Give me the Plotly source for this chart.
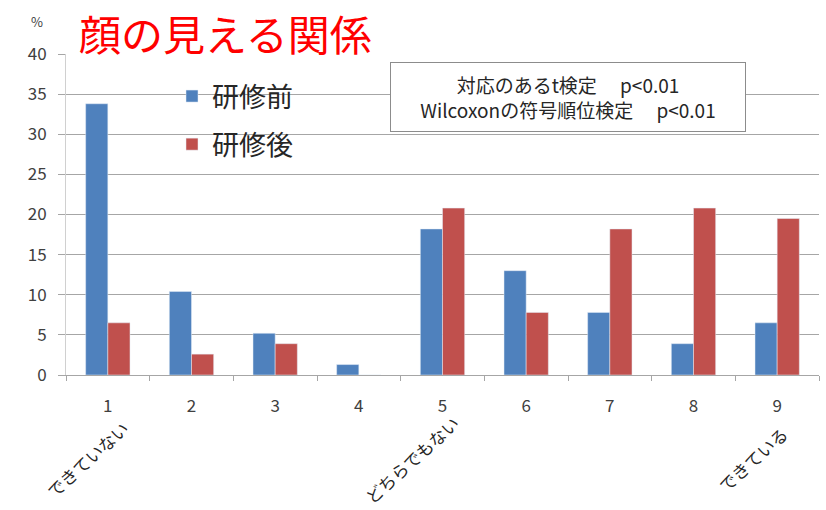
import plotly.graph_objects as go

categories = ["1", "2", "3", "4", "5", "6", "7", "8", "9"]
before = [33.8, 10.4, 5.2, 1.3, 18.2, 13.0, 7.8, 3.9, 6.5]
after = [6.5, 2.6, 3.9, 0.0, 20.8, 7.8, 18.2, 20.8, 19.5]
series_names = ["研修前", "研修後"]
scale_labels = [("1", "できていない", -21), ("5", "どちらでもない", -31), ("9", "できている", -25)]
title_text = "顔の見える関係"
stats_lines = ["対応のあるt検定\u3000\u00a0p<0.01", "Wilcoxonの符号順位検定\u3000\u00a0p<0.01"]

FONT = "Noto Sans CJK JP"
W, H = 826, 510
ml, mr, mt, mb = 66, 7, 54, 135
pw, ph = W - ml - mr, H - mt - mb

def px(x):
    return (x - ml) / pw

def py(y):
    return (H - mb - y) / ph

fig = go.Figure()
fig.add_trace(go.Bar(x=categories, y=before, name=series_names[0], marker_color="#4F81BD",
                     legendgroup="a"))
fig.add_trace(go.Bar(x=categories, y=after, name=series_names[1], marker_color="#C0504D",
                     legendgroup="b"))

fig.update_layout(
    width=W, height=H,
    margin=dict(l=ml, r=mr, t=mt, b=mb),
    paper_bgcolor="white", plot_bgcolor="white",
    font=dict(family=FONT, color="#404040"),
    barmode="group", bargap=0.47, bargroupgap=0,
    showlegend=True,
    legend=dict(x=px(172), y=py(72), xanchor="left", yanchor="top",
                font=dict(size=27, color="#262626", family=FONT),
                tracegroupgap=10, bgcolor="rgba(0,0,0,0)", itemwidth=30),
)
fig.update_xaxes(type="category", range=[-0.5, len(categories) - 0.5],
                 showline=True, linecolor="#A6A6A6", linewidth=1,
                 ticks="outside", tickson="boundaries", ticklen=5, tickcolor="#A6A6A6",
                 tickfont=dict(size=17, color="#404040", family=FONT),
                 ticklabelstandoff=16, showgrid=False)
fig.update_yaxes(range=[0, 40], dtick=5, showgrid=True, gridcolor="#A6A6A6", gridwidth=1,
                 showline=True, linecolor="#D0D0D0", linewidth=1,
                 ticks="outside", ticklen=7, tickcolor="#A6A6A6",
                 tickfont=dict(size=17, color="#404040", family=FONT),
                 ticklabelstandoff=8, zeroline=False)

# Title
fig.add_annotation(text=title_text, xref="paper", yref="paper", x=px(78), y=py(1),
                   xanchor="left", yanchor="top", showarrow=False, borderpad=0,
                   font=dict(size=42, color="#FF0000", family=FONT))
# % unit
fig.add_annotation(text="%", xref="paper", yref="paper", x=px(37), y=py(21),
                   xanchor="center", yanchor="middle", showarrow=False,
                   font=dict(size=13, color="#404040", family=FONT))
# Stats box
fig.add_annotation(text="<br>".join(stats_lines), xref="paper", yref="paper",
                   x=px(568), y=py(97), xanchor="center", yanchor="middle",
                   showarrow=False, align="center", width=352, height=66,
                   bordercolor="#8C8C8C", borderwidth=1, bgcolor="white",
                   font=dict(size=19, color="#262626", family=FONT))
# Scale anchor labels
for cat, lab, shift in scale_labels:
    fig.add_annotation(text=lab, xref="x", yref="paper", x=categories.index(cat), y=0,
                       xshift=shift, yshift=-84,
                       xanchor="center", yanchor="middle", showarrow=False,
                       textangle=-42, font=dict(size=17, color="#262626", family=FONT))

fig.write_html("out.html")
